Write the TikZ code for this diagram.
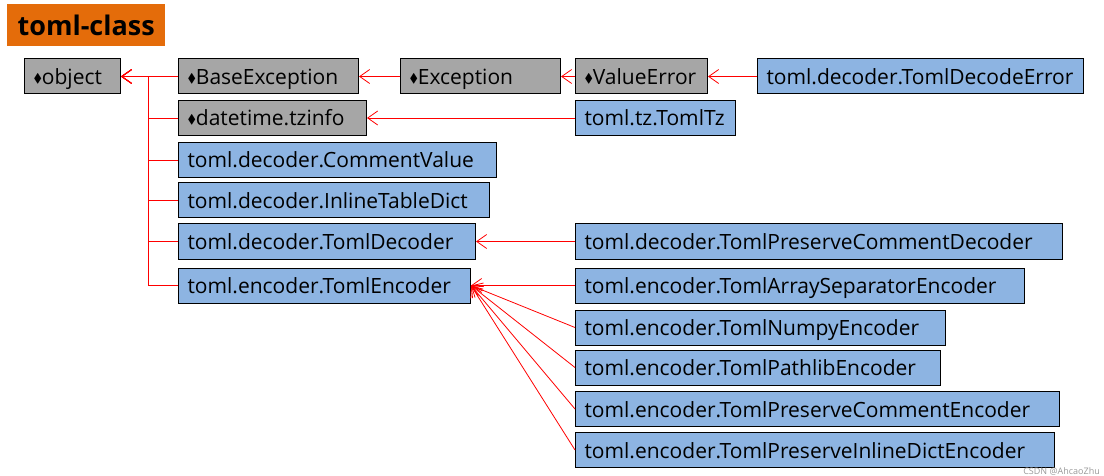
\documentclass[tikz,border=0pt]{standalone}
\usepackage{amssymb}
\usepackage{fontspec}
\setmainfont{Open Sans}
\usetikzlibrary{arrows.meta}
\definecolor{titleorange}{HTML}{E46C0A}
\definecolor{basegray}{HTML}{A6A6A6}
\definecolor{tomlblue}{HTML}{8DB4E2}
\tikzset{
	x=1pt, y=-1pt, % work in pixels, y downwards
	cls/.style={draw, line width=1pt, anchor=west, minimum height=35pt, inner xsep=9pt, align=left, text height=16pt, text depth=0pt, font=\fontsize{21}{23}\selectfont}, % every class box
	builtin/.style={cls, fill=basegray}, % python built-in classes
	tomlcls/.style={cls, fill=tomlblue}, % classes of the toml package
	inherit/.style={draw=red, line width=0.8pt, -{Straight Barb[length=10pt,width=14pt]}}, % subclass -> base class
}
\newcommand{\bltin}{\raisebox{2pt}{\scalebox{0.6}{$\blacklozenge$}}}

\begin{document}
\begin{tikzpicture}
	\useasboundingbox (0,0) rectangle (1104,476);
	\node[fill=titleorange, anchor=north west, minimum width=158pt, minimum height=42pt, font=\fontsize{27}{29}\selectfont\bfseries] (title) at (7,4) {toml-class};

	% built-ins
	\node[builtin, text width=78pt] (object) at (24,76.5) {\bltin object};
	\node[builtin, text width=162pt] (baseexc) at (178,76.5) {\bltin BaseException};
	\node[builtin, text width=142pt] (exc) at (400,76.5) {\bltin Exception};
	\node[builtin, text width=114pt] (valerr) at (575,76.5) {\bltin ValueError};
	\node[builtin, text width=170pt] (tzinfo) at (178,118) {\bltin datetime.tzinfo};

	% toml classes
	\node[tomlcls, text width=308pt] (decodeerr) at (757,76.5) {toml.decoder.TomlDecodeError};
	\node[tomlcls, text width=142pt] (tomltz) at (575,118) {toml.tz.TomlTz};
	\node[tomlcls, text width=300pt] (commentval) at (178,160) {toml.decoder.CommentValue};
	\node[tomlcls, text width=293pt] (inlinedict) at (178,200.5) {toml.decoder.InlineTableDict};
	\node[tomlcls, text width=279pt] (decoder) at (178,241.5) {toml.decoder.TomlDecoder};
	\node[tomlcls, text width=274pt] (encoder) at (178,285.5) {toml.encoder.TomlEncoder};
	\node[tomlcls, text width=469pt] (pcdecoder) at (575,241.5) {toml.decoder.TomlPreserveCommentDecoder};
	\node[tomlcls, text width=431pt] (arrsep) at (575,285.5) {toml.encoder.TomlArraySeparatorEncoder};
	\node[tomlcls, text width=352pt] (numpy) at (575,327.5) {toml.encoder.TomlNumpyEncoder};
	\node[tomlcls, text width=347pt] (pathlib) at (575,367.5) {toml.encoder.TomlPathlibEncoder};
	\node[tomlcls, text width=466pt] (pcencoder) at (575,409) {toml.encoder.TomlPreserveCommentEncoder};
	\node[tomlcls, text width=461pt] (inlineenc) at (575,450) {toml.encoder.TomlPreserveInlineDictEncoder};

	\node[anchor=base east, inner sep=0pt, text=black!40, font=\fontsize{9}{10}\selectfont] (mark) at (1100,474.5) {CSDN @AhcaoZhu};

	% inheritance
	\foreach \sub in {baseexc,tzinfo,commentval,inlinedict,decoder,encoder}
		\draw[inherit] (\sub.west) -- ++(-30,0) |- (object.east);
	\draw[inherit] (exc) -- (baseexc);
	\draw[inherit] (valerr) -- (exc);
	\draw[inherit] (decodeerr) -- (valerr);
	\draw[inherit] (tomltz) -- (tzinfo);
	\draw[inherit] (pcdecoder) -- (decoder);
	\foreach \sub in {arrsep,numpy,pathlib,pcencoder,inlineenc}
		\draw[inherit] (\sub.west) -- (encoder.east);
\end{tikzpicture}
\end{document}
